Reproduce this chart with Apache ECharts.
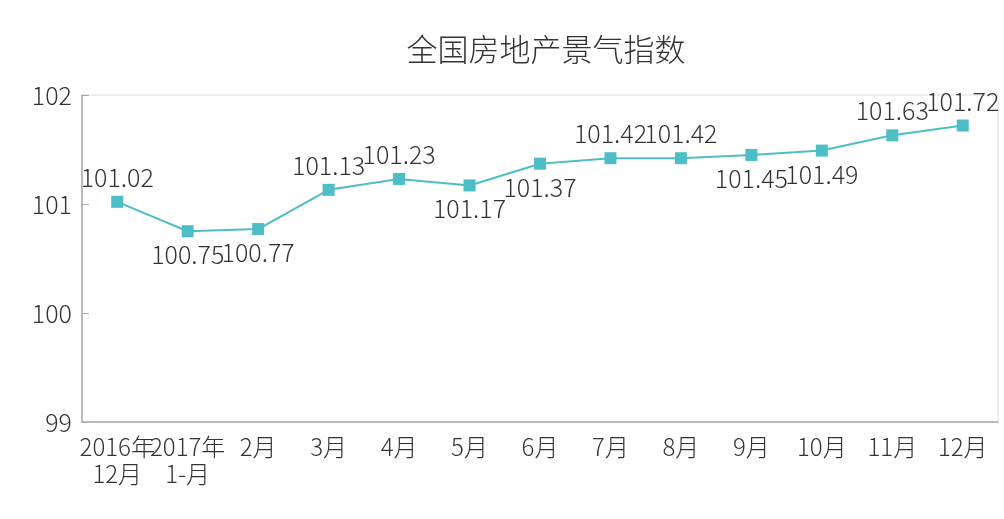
<!DOCTYPE html>
<html><head><meta charset="utf-8">
<script src="https://cdn.jsdelivr.net/npm/echarts@6/dist/echarts.min.js"></script>
<style>html,body{margin:0;padding:0;background:#fff}#c{width:1004px;height:519px}</style>
</head><body><div id="c"></div>
<script>
const title = '全国房地产景气指数';
const categories = ['2016年\n12月','2017年\n1-月','2月','3月','4月','5月','6月','7月','8月','9月','10月','11月','12月'];
const values = [101.02,100.75,100.77,101.13,101.23,101.17,101.37,101.42,101.42,101.45,101.49,101.63,101.72];
const labelPos = ['top','bottom','bottom','top','top','bottom','bottom','top','top','bottom','bottom','top','top'];
const yTicks = [99,100,101,102];

const font = '"Noto Sans CJK SC", "Noto Sans", sans-serif';
const chart = echarts.init(document.getElementById('c'));
chart.setOption({
  animation:false,
  title:{text:title,left:541,textAlign:'center',top:29,textStyle:{fontFamily:font,fontWeight:300,fontSize:31,color:'#333'}},
  grid:{left:82,right:6,top:95,bottom:97,show:true,borderColor:'#ddd',borderWidth:1},
  xAxis:{type:'category',data:categories,boundaryGap:true,
    axisLine:{lineStyle:{color:'#aaa',width:1.5}},
    axisTick:{inside:true,length:7,lineStyle:{color:'#aaa'}},
    axisLabel:{fontFamily:font,fontWeight:300,fontSize:24,color:'#333',margin:11,lineHeight:27,interval:0}},
  yAxis:{type:'value',min:yTicks[0],max:yTicks[yTicks.length-1],interval:1,
    axisLine:{show:true,lineStyle:{color:'#aaa',width:1.5}},
    axisTick:{show:true,inside:true,length:7,lineStyle:{color:'#aaa'}},
    splitLine:{show:false},
    axisLabel:{fontFamily:font,fontWeight:300,fontSize:25,color:'#333',margin:10}},
  series:[{type:'line',data:values.map((v,i)=>({value:v,label:{position:labelPos[i],distance:labelPos[i]==='top'?6:5}})),
    symbol:'rect',symbolSize:12,
    lineStyle:{color:'#4dbdc6',width:2},
    itemStyle:{color:'#4dbdc6'},
    label:{show:true,fontFamily:font,fontWeight:300,fontSize:25,color:'#333'}}]
});
</script></body></html>
